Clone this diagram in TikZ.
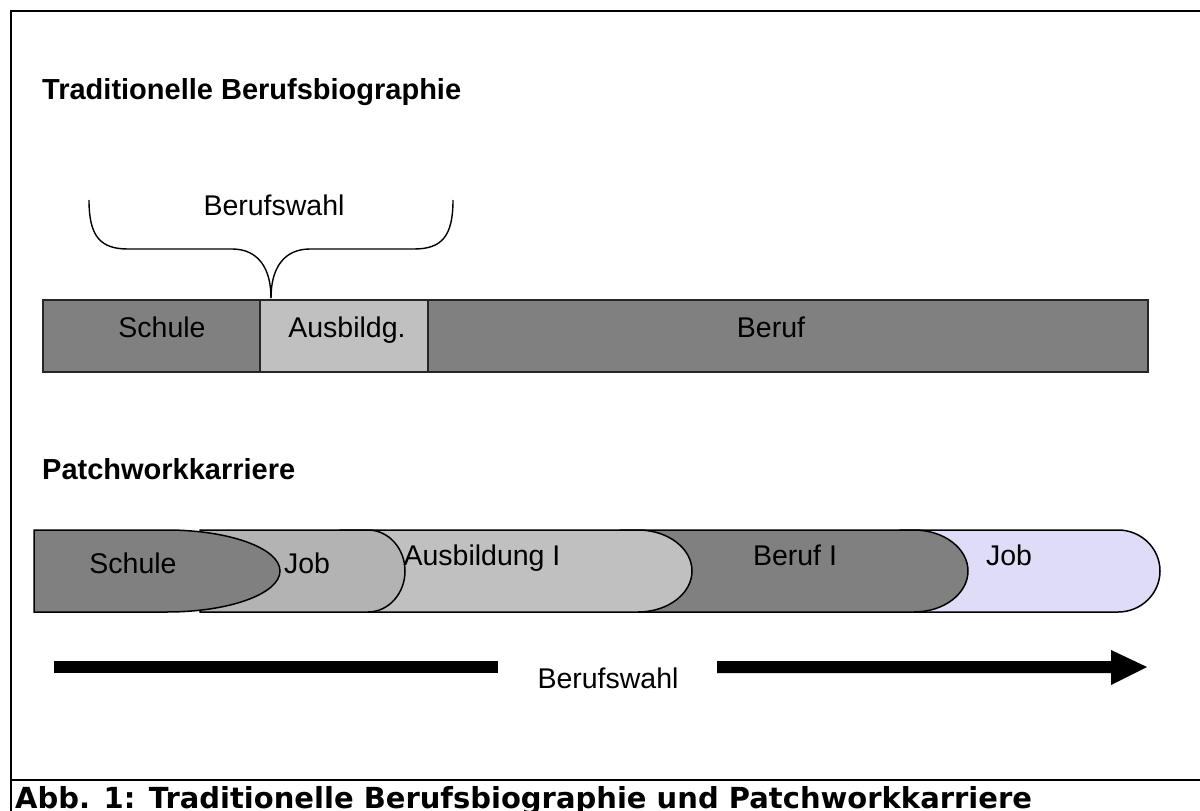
\documentclass[tikz,border=0pt]{standalone}
\usepackage{fontspec}
\setmainfont{Liberation Sans}
\newfontfamily\capfont{DejaVu Sans}
\definecolor{gdark}{RGB}{128,128,128}
\definecolor{gmid}{RGB}{179,179,179}
\definecolor{glight}{RGB}{192,192,192}
\definecolor{lav}{RGB}{222,220,246}
\begin{document}
\begin{tikzpicture}[x=1pt,y=-1pt,
  frame/.style={line width=2pt, black},
  cell/.style={draw=black!85, line width=1.6pt},
  patch/.style={draw=black, line width=1.5pt},
  lbl/.style={font=\fontsize{28.5}{34}\selectfont, inner sep=0pt, anchor=base},
  ttl/.style={font=\fontsize{29}{34}\selectfont\bfseries, inner sep=0pt, anchor=base west},
  captext/.style={font=\fontsize{29}{34}\selectfont\capfont\bfseries, inner sep=0pt, anchor=base west},
  brace/.style={draw=black, line width=1.4pt},
  bar/.style={fill=black}]
\useasboundingbox (0,0) rectangle (1200,811);
\fill[white] (0,0) rectangle (1200,811);
% frame
\draw[frame] (1201,11) -- (11,11) -- (11,812);
\draw[frame] (11,780) -- (1201,780);
% titles
\node[ttl] (t1) at (42,99) {Traditionelle Berufsbiographie};
\node[ttl] (t2) at (42,479) {Patchworkkarriere};
% traditional bar
\draw[cell, fill=gdark] (43,300) rectangle (260,372);
\draw[cell, fill=glight] (260,300) rectangle (428,372);
\draw[cell, fill=gdark] (428,300) rectangle (1148,372);
\node[lbl] (schule1) at (162,337) {Schule};
\node[lbl] (ausb1) at (347,337) {Ausbildg.};
\node[lbl] (beruf1) at (771,337) {Beruf};
% brace
\coordinate (btip) at (271,298);
\draw[brace] (89,200) .. controls (89,236) and (100,249) .. (128,249) -- (232,249)
  .. controls (258,249) and (271,268) .. (btip);
\draw[brace] (453,200) .. controls (453,236) and (442,249) .. (414,249) -- (310,249)
  .. controls (284,249) and (271,268) .. (btip);
\node[lbl] (bw1) at (274,215) {Berufswahl};
% patchwork shapes (right to left so that left ones lie on top)
\draw[patch, fill=lav] (900,530) -- (1118,530) arc[start angle=-90, end angle=90, x radius=42, y radius=41] -- (900,612) -- cycle;
\draw[patch, fill=gdark] (620,530) -- (914,530) arc[start angle=-90, end angle=90, x radius=54, y radius=41] -- (620,612) -- cycle;
\draw[patch, fill=glight] (340,530) -- (638,530) arc[start angle=-90, end angle=90, x radius=54, y radius=41] -- (340,612) -- cycle;
\draw[patch, fill=gmid] (200,530) -- (368,530) arc[start angle=-90, end angle=90, x radius=37, y radius=41] -- (200,612) -- cycle;
\draw[patch, fill=gdark] (34,530) -- (167,530) arc[start angle=-90, end angle=90, x radius=113, y radius=41] -- (34,612) -- cycle;
\node[lbl] (schule2) at (133,573) {Schule};
\node[lbl] (job1) at (307,573) {Job};
\node[lbl] (ausb2) at (482,565) {Ausbildung I};
\node[lbl] (beruf2) at (795,565) {Beruf I};
\node[lbl] (job2) at (1009,565) {Job};
% Berufswahl arrow
\fill[bar] (54,661) rectangle (498,673);
\fill[bar] (717,661) -- (1111,661) -- (1111,650) -- (1147,667) -- (1111,685) -- (1111,673) -- (717,673) -- cycle;
\node[lbl] (bw2) at (608,688) {Berufswahl};
% caption
\node[captext] (caption) at (15,808) {Abb. 1: Traditionelle Berufsbiographie und Patchworkkarriere};
\end{tikzpicture}
\end{document}
